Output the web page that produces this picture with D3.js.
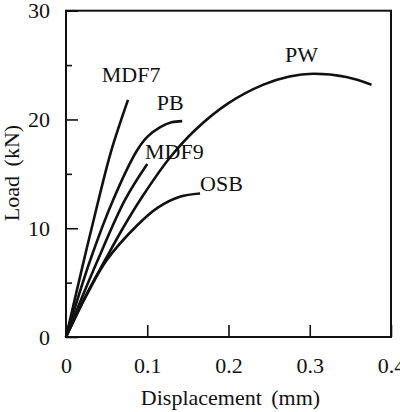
<!DOCTYPE html>
<html>
<head>
<meta charset="utf-8">
<script src="https://cdn.jsdelivr.net/npm/d3@7"></script>
<style>
  body { margin: 0; background: #fff; }
  text { font-family: "Liberation Serif", "Times New Roman", serif; fill: #111; }
</style>
</head>
<body>
<div id="chart"></div>
<script>
// load-displacement curves (displacement mm, load kN)
const mdf7 = [[0, 0], [0.02, 6.4], [0.04, 12.6], [0.056, 17.2], [0.0763, 21.8]];
const pb = [[0, 0], [0.03, 7.1], [0.058, 12.6], [0.087, 17.1], [0.1, 18.4], [0.116, 19.3], [0.13, 19.75], [0.143, 19.85]];
const mdf9 = [[0, 0], [0.02, 3.7], [0.039, 7.06], [0.0726, 12.6], [0.1, 15.9]];
const osb = [[0, 0], [0.025, 3.8], [0.05, 7.06], [0.088, 10.3], [0.113, 11.9], [0.14, 12.9], [0.165, 13.2]];
const pw = [[0, 0], [0.025, 3.9], [0.048, 7.06], [0.07, 10], [0.093, 12.8], [0.128, 16.5], [0.16, 19.1],
            [0.2, 21.5], [0.243, 23.2], [0.275, 23.95], [0.304, 24.2], [0.345, 23.9], [0.376, 23.2]];

const seriesNames = ["MDF7", "PB", "MDF9", "OSB", "PW"];
const seriesData = [mdf7, pb, mdf9, osb, pw];
// label anchor in data units
const labelPos = [[0.044, 23.4], [0.1116, 20.9], [0.0972, 16.4], [0.165, 13.4], [0.2695, 25.3]];

const xTicks = [0, 0.1, 0.2, 0.3, 0.4];
const yTicks = [0, 10, 20, 30];
const yMinorTicks = [5, 15, 25];

const W = 400, H = 412;
const margin = { top: 10.7, right: 9, bottom: 75, left: 66 };

const svg = d3.select('#chart').append('svg')
    .attr('width', W)
    .attr('height', H);

const x = d3.scaleLinear().domain([0, 0.4]).range([margin.left, W - margin.right]);
const y = d3.scaleLinear().domain([0, 30]).range([H - margin.bottom, margin.top]);

// frame
svg.append('rect')
    .attr('x', x(0)).attr('y', y(30))
    .attr('width', x(0.4) - x(0)).attr('height', y(0) - y(30))
    .attr('fill', 'none').attr('stroke', '#111').attr('stroke-width', 2);

svg.append('g')
    .attr('transform', `translate(0,${y(0)})`)
    .call(d3.axisBottom(x).tickValues(xTicks).tickFormat(d => d === 0 ? '0' : d3.format('.1f')(d))
        .tickSizeInner(-12).tickSizeOuter(0).tickPadding(20));

svg.append('g')
    .attr('transform', `translate(${x(0)},0)`)
    .call(d3.axisLeft(y).tickValues(yTicks).tickSizeInner(-12).tickSizeOuter(0).tickPadding(16));

svg.append('g')
    .attr('transform', `translate(${x(0)},0)`)
    .call(d3.axisLeft(y).tickValues(yMinorTicks).tickFormat('').tickSizeInner(-6).tickSizeOuter(0));

svg.selectAll('.domain').attr('stroke', 'none');
svg.selectAll('.tick line').attr('stroke', '#111').attr('stroke-width', 1.6);
svg.selectAll('.tick text').style('font-size', '22px')
    .style('font-family', '"Liberation Serif", serif').attr('fill', '#111');

const line = d3.line()
    .x(d => x(d[0]))
    .y(d => y(d[1]))
    .curve(d3.curveCatmullRom.alpha(0.5));

svg.selectAll('path.curve')
    .data(seriesData)
    .enter()
    .append('path')
    .attr('class', 'curve')
    .attr('d', line)
    .attr('fill', 'none')
    .attr('stroke', '#111')
    .attr('stroke-width', 2.6);

svg.selectAll('text.lbl')
    .data(seriesNames)
    .enter()
    .append('text')
    .attr('class', 'lbl')
    .attr('x', (d, i) => x(labelPos[i][0]))
    .attr('y', (d, i) => y(labelPos[i][1]))
    .style('font-size', '22px')
    .text(d => d);

svg.append('text')
    .attr('x', (x(0) + x(0.4)) / 2 + 2)
    .attr('y', 405)
    .attr('text-anchor', 'middle')
    .style('font-size', '22px')
    .style('word-spacing', '4px')
    .text('Displacement (mm)');

svg.append('text')
    .attr('transform', `translate(19,173) rotate(-90)`)
    .attr('text-anchor', 'middle')
    .style('font-size', '22px')
    .style('word-spacing', '4px')
    .text('Load (kN)');
</script>
</body>
</html>
